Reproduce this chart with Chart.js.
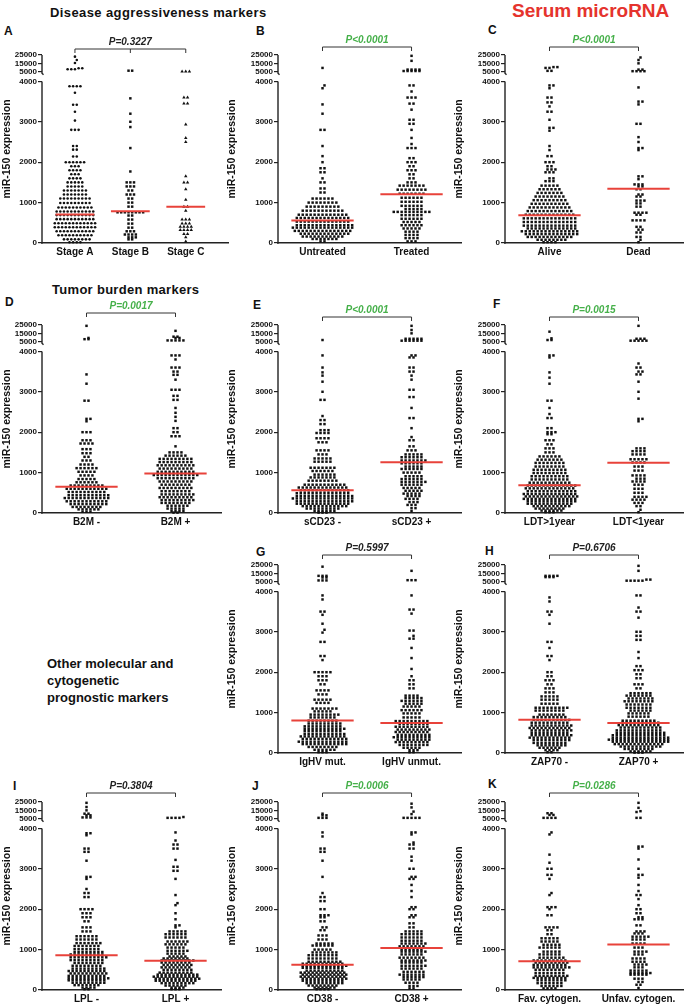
<!DOCTYPE html>
<html>
<head>
<meta charset="utf-8">
<script src="https://cdn.jsdelivr.net/npm/chart.js@4.4.1/dist/chart.umd.min.js"></script>
<style>
body{margin:0;background:#fff;width:685px;height:1006px;position:relative;overflow:hidden;font-family:"Liberation Sans",Arial,sans-serif;}
.t{position:absolute;font-weight:bold;color:#111;white-space:nowrap;}
.lt{font-size:12px;line-height:12px;}
canvas{position:absolute;}
</style>
</head>
<body>
<div class="t" style="left:50px;top:6px;font-size:13px;line-height:13px;letter-spacing:0.4px">Disease aggressiveness markers</div>
<div class="t" style="left:512px;top:1px;font-size:19px;line-height:19px;color:#e5332d">Serum microRNA</div>
<div class="t" style="left:52px;top:283px;font-size:13px;line-height:13px;letter-spacing:0.3px">Tumor burden markers</div>
<div class="t" style="left:47px;top:655px;font-size:13px;line-height:17px">Other molecular and<br>cytogenetic<br>prognostic markers</div>

<div class="t lt" style="left:4px;top:25px">A</div>
<div class="t lt" style="left:256px;top:25px">B</div>
<div class="t lt" style="left:488px;top:24px">C</div>
<div class="t lt" style="left:5px;top:296px">D</div>
<div class="t lt" style="left:253px;top:299px">E</div>
<div class="t lt" style="left:493px;top:298px">F</div>
<div class="t lt" style="left:256px;top:546px">G</div>
<div class="t lt" style="left:485px;top:545px">H</div>
<div class="t lt" style="left:13px;top:780px">I</div>
<div class="t lt" style="left:252px;top:780px">J</div>
<div class="t lt" style="left:488px;top:778px">K</div>

<script>
// ---- data: each row is [miR-150 value, number of patients in that dot row] ----
const stageA = [[23000,1],[19000,1],[15500,1],[9200,2],[8000,3],[3880,4],[3720,1],[3420,2],[3250,1],[3030,1],[2800,3],[2400,2],[2310,2],[2140,2],[2000,6],[1900,3],[1800,4],[1700,3],[1600,4],[1500,5],[1400,5],[1300,7],[1200,7],[1100,9],[990,9],[880,10],[780,11],[690,11],[590,11],[490,12],[390,12],[290,11],[190,10],[90,8],[20,4]];
const stageB = [[6200,2],[3580,1],[3200,1],[3000,1],[2870,1],[2350,1],[1770,1],[1500,3],[1400,3],[1300,2],[1200,3],[1100,2],[1000,2],[900,2],[760,8],[680,2],[580,2],[480,2],[380,2],[290,3],[210,4],[140,3],[90,2]];
const stageC = [[5300,3],[3600,2],[3450,2],[2930,1],[2600,1],[2500,1],[1650,1],[1500,2],[1330,1],[1070,1],[900,2],[800,1],[580,3],[480,3],[400,4],[320,4],[220,2],[140,1],[40,1]];
const untreated = [[9500,1],[3900,1],[3830,1],[3430,1],[3200,1],[2800,2],[2400,1],[2150,1],[2000,1],[1850,2],[1750,2],[1600,1],[1500,2],[1350,2],[1250,2],[1100,6],[1000,8],[900,9],[800,11],[700,13],[620,14],[530,14],[440,15],[380,16],[300,15],[230,13],[160,11],[100,7],[40,2]];
const treated = [[24000,1],[18000,1],[7500,4],[5800,5],[3900,2],[3750,1],[3600,3],[3450,2],[3300,1],[3050,2],[2950,2],[2800,1],[2600,1],[2450,1],[2350,3],[2100,2],[2000,3],[1900,2],[1800,3],[1700,2],[1600,2],[1500,3],[1420,7],[1320,8],[1220,7],[1120,6],[1020,6],[920,6],[840,5],[770,10],[690,6],[600,6],[520,5],[440,6],[360,5],[280,4],[200,4],[120,4],[40,3]];
const alive = [[10500,2],[9500,2],[6000,2],[3900,2],[3830,1],[3600,2],[3480,2],[3380,1],[3250,2],[3050,1],[2850,2],[2780,1],[2400,1],[2300,1],[2150,2],[2000,3],[1900,2],[1820,3],[1750,3],[1600,2],[1530,3],[1420,5],[1330,6],[1240,7],[1150,8],[1060,9],[970,10],[880,11],[790,12],[700,13],[610,14],[520,14],[430,14],[360,13],[290,15],[220,14],[150,12],[80,8],[20,4]];
const dead = [[22000,1],[19000,1],[15000,1],[7500,2],[5600,4],[3850,1],[3500,2],[3430,1],[2950,2],[2620,1],[2500,1],[2350,2],[2300,1],[1650,2],[1580,1],[1450,3],[1400,2],[1330,2],[1200,2],[1150,2],[1050,3],[980,2],[900,2],[750,4],[700,2],[560,4],[400,2],[330,2],[260,2],[150,2],[80,1],[20,1]];
const b2mNeg = [[24000,1],[9500,1],[8000,2],[3430,1],[3200,1],[2780,2],[2330,2],[2270,1],[2000,3],[1800,3],[1720,4],[1580,3],[1480,3],[1390,2],[1300,3],[1200,4],[1110,6],[1020,5],[930,4],[840,5],[760,6],[680,9],[600,11],[520,10],[440,11],[370,12],[290,11],[220,10],[150,8],[90,6],[30,3]];
const b2mPos = [[18000,1],[11000,2],[9500,2],[6500,5],[3900,3],[3800,1],[3600,3],[3500,2],[3420,2],[3300,1],[3050,3],[2900,2],[2800,2],[2600,1],[2480,1],[2380,1],[2280,1],[2100,2],[2000,2],[1900,3],[1650,1],[1500,4],[1420,6],[1340,9],[1260,9],[1180,10],[1100,9],[1020,10],[940,12],[860,10],[780,9],[700,8],[620,9],[540,8],[460,9],[390,9],[320,9],[250,8],[180,6],[110,5],[50,4],[10,2]];
const scd23Neg = [[7000,1],[3900,1],[3600,1],[3480,1],[3400,1],[3250,1],[3000,1],[2800,2],[2400,1],[2300,2],[2200,2],[2050,3],[1980,4],[1850,4],[1750,3],[1550,4],[1450,3],[1350,5],[1270,5],[1120,7],[1040,6],[950,6],[880,7],[800,8],[700,11],[630,13],[560,13],[490,14],[420,15],[360,16],[290,15],[230,14],[170,12],[110,9],[50,6],[10,3]];
const scd23Pos = [[24000,1],[19000,1],[15000,1],[8500,5],[6200,6],[3900,2],[3850,2],[3600,2],[3500,2],[3400,1],[3300,1],[3050,2],[2870,2],[2600,1],[2350,2],[2100,1],[1880,1],[1800,2],[1650,2],[1550,3],[1450,5],[1380,6],[1300,7],[1230,6],[1150,5],[1090,6],[1000,5],[910,5],[840,6],[770,7],[700,6],[620,5],[550,5],[480,5],[420,4],[350,4],[270,3],[200,3],[120,2],[50,1]];
const ldtLong = [[17000,1],[9000,1],[7000,2],[3900,2],[3850,1],[3480,1],[3350,1],[3200,1],[2780,2],[2600,1],[2450,1],[2350,2],[2100,2],[2000,3],[1950,2],[1800,3],[1700,2],[1600,3],[1500,3],[1400,6],[1320,7],[1240,8],[1150,8],[1070,9],[990,9],[910,10],[830,10],[750,11],[680,13],[610,13],[540,13],[470,14],[410,14],[350,14],[290,13],[230,12],[170,10],[110,8],[60,6],[20,3]];
const ldtShort = [[24000,1],[8500,3],[6200,5],[3700,1],[3600,2],[3500,2],[3430,2],[3250,1],[3000,1],[2830,1],[2330,2],[2270,1],[1600,3],[1530,4],[1450,4],[1330,5],[1250,4],[1150,3],[1050,3],[930,4],[850,3],[780,4],[700,3],[600,3],[500,3],[400,4],[330,4],[250,3],[170,2],[80,1],[20,1]];
const ighvMut = [[23000,1],[12000,3],[10000,2],[6500,3],[3900,1],[3800,1],[3500,2],[3420,1],[3200,1],[3050,1],[2980,1],[2750,2],[2400,2],[2300,1],[2000,5],[1900,3],[1800,3],[1700,2],[1550,4],[1450,3],[1320,5],[1240,4],[1100,7],[1030,5],[950,8],[880,7],[800,8],[730,9],[660,10],[600,11],[540,10],[470,11],[410,12],[350,12],[280,13],[220,12],[150,8],[80,6],[20,3]];
const ighvUnmut = [[18000,1],[6800,3],[3900,1],[3550,2],[3450,1],[3030,2],[2900,1],[2830,2],[2600,1],[2350,1],[2080,1],[1900,1],[1800,2],[1700,2],[1600,2],[1420,4],[1360,5],[1290,6],[1220,5],[1150,5],[1060,6],[980,5],[880,5],[790,9],[720,8],[650,9],[580,9],[520,9],[450,9],[390,10],[330,9],[270,9],[200,8],[130,5],[70,3],[20,2]];
const zap70Neg = [[12000,4],[10500,3],[3850,1],[3750,1],[3500,2],[3420,1],[3200,1],[2750,2],[2600,1],[2400,2],[2300,1],[2000,2],[1900,2],[1800,3],[1700,2],[1600,3],[1500,3],[1400,5],[1320,5],[1220,5],[1120,9],[1050,8],[950,7],[890,9],[820,10],[750,10],[680,11],[620,11],[560,11],[500,10],[440,11],[380,11],[320,10],[250,9],[190,8],[130,6],[70,4],[20,2]];
const zap70Pos = [[24000,1],[18000,1],[7500,2],[6200,5],[3900,2],[3600,1],[3500,2],[3350,1],[3000,2],[2900,2],[2800,2],[2500,1],[2350,1],[2150,2],[2050,3],[1950,2],[1850,2],[1700,3],[1600,2],[1480,6],[1420,7],[1350,7],[1280,8],[1200,7],[1120,7],[1050,6],[980,6],[900,6],[800,9],[750,10],[690,11],[630,11],[560,12],[500,13],[440,14],[380,15],[330,16],[280,15],[220,13],[160,11],[100,8],[40,6],[10,3]];
const lplNeg = [[24000,1],[19000,1],[15000,1],[11000,2],[9000,2],[6500,3],[3880,2],[3830,1],[3500,2],[3420,2],[3200,1],[2800,2],[2750,1],[2500,1],[2400,2],[2300,2],[2000,4],[1900,3],[1800,3],[1700,2],[1550,3],[1450,3],[1330,6],[1250,6],[1160,7],[1090,7],[1010,7],[940,8],[880,9],[810,10],[740,9],[670,8],[600,8],[530,9],[470,10],[410,10],[350,10],[290,11],[240,10],[180,9],[120,7],[60,4],[20,2]];
const lplPos = [[7000,1],[6000,4],[3900,1],[3700,1],[3600,2],[3500,2],[3220,1],[3050,2],[2950,2],[2750,1],[2350,1],[2150,1],[2100,1],[1900,1],[1750,1],[1600,2],[1550,1],[1450,5],[1380,6],[1300,6],[1200,6],[1130,6],[1050,5],[970,6],[900,5],[830,5],[780,7],[730,9],[680,8],[620,8],[560,8],[500,8],[430,9],[380,11],[330,12],[280,12],[230,11],[170,9],[110,6],[60,4],[20,3]];
const cd38Neg = [[11000,1],[9000,2],[6000,3],[3900,1],[3800,1],[3500,2],[3420,2],[3200,1],[2800,1],[2400,1],[2300,2],[2200,2],[2000,2],[1850,3],[1800,2],[1700,2],[1550,2],[1480,2],[1350,3],[1250,3],[1150,5],[1100,6],[1000,5],[930,7],[860,8],[780,8],[700,9],[650,11],[600,12],[550,11],[480,10],[430,12],[380,12],[330,12],[280,12],[230,11],[170,10],[110,8],[60,6],[20,4]];
const cd38Pos = [[23000,1],[18500,1],[13500,1],[10500,1],[6000,5],[3900,2],[3850,1],[3650,1],[3600,2],[3500,2],[3300,1],[3200,1],[3000,2],[2800,2],[2750,2],[2600,1],[2450,1],[2300,1],[2050,2],[2000,2],[1850,2],[1800,2],[1650,2],[1550,2],[1450,5],[1380,6],[1300,6],[1220,6],[1150,7],[1080,7],[1000,6],[950,7],[880,6],[800,7],[730,7],[680,6],[600,7],[530,6],[450,6],[380,7],[320,6],[260,5],[180,4],[100,3],[40,2]];
const favCyto = [[11500,2],[9500,2],[6000,4],[3900,1],[3850,1],[3350,1],[3150,1],[3000,2],[2850,2],[2750,1],[2400,1],[2350,1],[2050,3],[2000,1],[1850,2],[1550,4],[1480,2],[1380,2],[1280,5],[1200,5],[1120,5],[1050,6],[950,5],[880,6],[800,7],[730,9],[680,9],[620,9],[560,10],[500,8],[420,8],[350,9],[300,9],[240,8],[170,7],[100,6],[40,4]];
const unfavCyto = [[24000,1],[18000,1],[14000,1],[13000,1],[6000,2],[3550,2],[3500,1],[3230,1],[3000,1],[2850,2],[2780,1],[2600,1],[2450,1],[2350,2],[2250,1],[2100,1],[2000,2],[1900,2],[1800,2],[1750,3],[1600,2],[1450,3],[1400,3],[1320,5],[1250,4],[1150,4],[1050,3],[950,4],[880,3],[780,4],[700,4],[630,4],[560,3],[480,5],[420,6],[380,5],[280,3],[200,2],[130,2],[50,1]];

// medians (red bars)
const medA = [708, 783, 900];
const medB = [558, 1208];
const medC = [689, 1345];
const medD = [648, 975];
const medE = [566, 1254];
const medF = [689, 1246];
const medG = [802, 744];
const medH = [826, 744];
const medI = [858, 725];
const medJ = [625, 1042];
const medK = [711, 1124];

const catsA = ['Stage A', 'Stage B', 'Stage C'];
const catsB = ['Untreated', 'Treated'];
const catsC = ['Alive', 'Dead'];
const catsD = ['B2M -', 'B2M +'];
const catsE = ['sCD23 -', 'sCD23 +'];
const catsF = ['LDT>1year', 'LDT<1year'];
const catsG = ['IgHV mut.', 'IgHV unmut.'];
const catsH = ['ZAP70 -', 'ZAP70 +'];
const catsI = ['LPL -', 'LPL +'];
const catsJ = ['CD38 -', 'CD38 +'];
const catsK = ['Fav. cytogen.', 'Unfav. cytogen.'];

const pValues = ['P=0.3227', 'P<0.0001', 'P<0.0001', 'P=0.0017', 'P<0.0001', 'P=0.0015', 'P=0.5997', 'P=0.6706', 'P=0.3804', 'P=0.0006', 'P=0.0286'];
const significant = [false, true, true, true, true, true, false, false, false, true, true];

const yTickVals = [0, 1000, 2000, 3000, 4000, 5000, 15000, 25000];
const yTickLabels = ['0', '1000', '2000', '3000', '4000', '5000', '15000', '25000'];

// ---- broken y axis ----
const GAP = 240, TOPSEG = 413;
function d(v) {
	return v <= 4000 ? v : 4000 + GAP + (v - 5000) * TOPSEG / 20000;
}
const YMAX = d(25000);

const FONT = '"Liberation Sans", Arial, sans-serif';
Chart.defaults.font.family = FONT;
Chart.defaults.color = '#111';
const RED = '#e8423a';
const GREEN = '#46b04a';

const colAxisX = [42, 278, 505];
const colYW = [41, 52, 52];
const colAreaW = [181, 185, 180];
const rowZero = [243, 513, 753, 990];
const AREA_H = 188, PADTOP = 32, XH = 22;

const panels = [
	{col: 0, row: 0, cats: catsA, groups: [stageA, stageB, stageC], med: medA, shapes: ['circle', 'rect', 'triangle'], areaW: 188, ppu: 56, off: 33.3, bk: 6},
	{col: 1, row: 0, cats: catsB, groups: [untreated, treated], med: medB, bk: 8},
	{col: 2, row: 0, cats: catsC, groups: [alive, dead], med: medC, bk: 8},
	{col: 0, row: 1, cats: catsD, groups: [b2mNeg, b2mPos], med: medD, bk: 12},
	{col: 1, row: 1, cats: catsE, groups: [scd23Neg, scd23Pos], med: medE, bk: 8},
	{col: 2, row: 1, cats: catsF, groups: [ldtLong, ldtShort], med: medF, bk: 8},
	{col: 1, row: 2, cats: catsG, groups: [ighvMut, ighvUnmut], med: medG, bk: 10},
	{col: 2, row: 2, cats: catsH, groups: [zap70Neg, zap70Pos], med: medH, bk: 10},
	{col: 0, row: 3, cats: catsI, groups: [lplNeg, lplPos], med: medI, bk: 9},
	{col: 1, row: 3, cats: catsJ, groups: [cd38Neg, cd38Pos], med: medJ, bk: 9},
	{col: 2, row: 3, cats: catsK, groups: [favCyto, unfavCyto], med: medK, bk: 9},
];

// column-scatter layout: dots of one row are spread sideways
function swarm(rows, g, ppu, sp) {
	const vals = [];
	rows.forEach(([v, n]) => { for (let i = 0; i < n; i++) vals.push(v); });
	vals.sort((a, b) => a - b);
	const clusters = [];
	vals.forEach(v => {
		const c = clusters[clusters.length - 1];
		if (c && d(v) - c.y0 < 30) c.vals.push(v);
		else clusters.push({y0: d(v), vals: [v]});
	});
	const out = [];
	let prev = -1e9, shift = 0;
	clusters.forEach(c => {
		shift = (c.y0 - prev < 75 && shift === 0) ? sp / 2 : 0;
		prev = c.y0;
		const n = c.vals.length;
		c.vals.forEach((v, i) => out.push({x: g + ((i - (n - 1) / 2) * sp + shift) / ppu, y: d(v)}));
	});
	return out;
}

panels.forEach((p, k) => {
	const yw = colYW[p.col], aw = p.areaW || colAreaW[p.col];
	const ppu = p.ppu || 90, off = p.off || 45;
	const xmin = 1 - off / ppu, xmax = xmin + aw / ppu;
	const W = yw + aw + 2, H = PADTOP + AREA_H + XH;

	const cv = document.createElement('canvas');
	cv.width = W; cv.height = H;
	cv.style.width = W + 'px'; cv.style.height = H + 'px';
	cv.style.left = (colAxisX[p.col] - yw) + 'px';
	cv.style.top = (rowZero[p.row] - AREA_H - PADTOP) + 'px';
	document.body.appendChild(cv);

	const datasets = [];
	p.med.forEach((m, i) => {
		datasets.push({type: 'line', data: [{x: i + 1 - 0.35, y: m}, {x: i + 1 + 0.35, y: m}],
			borderColor: RED, borderWidth: 2, pointRadius: 0, order: 0, clip: false});
	});
	p.groups.forEach((rows, i) => {
		const shape = p.shapes ? p.shapes[i] : 'rect';
		datasets.push({type: 'scatter', data: swarm(rows, i + 1, ppu, p.ppu ? 3.7 : 4.0),
			pointStyle: shape, pointRadius: shape === 'circle' ? 1.3 : (shape === 'triangle' ? 2.0 : 1.75),
			backgroundColor: '#111', borderWidth: 0, order: 1, clip: false});
	});

	new Chart(cv, {
		type: 'scatter',
		data: {datasets},
		options: {
			responsive: false, animation: false, devicePixelRatio: 1, events: [],
			layout: {padding: {top: PADTOP, right: 2, left: 0, bottom: 0}},
			plugins: {legend: {display: false}, tooltip: {enabled: false}},
			scales: {
				x: {
					type: 'linear', min: xmin, max: xmax,
					afterBuildTicks: s => { s.ticks = p.cats.map((c, i) => ({value: i + 1})); },
					afterFit: s => { s.height = XH; },
					ticks: {callback: v => p.cats[Math.round(v) - 1], font: {size: 10, weight: 'bold'}, padding: 3, autoSkip: false, maxRotation: 0},
					grid: {display: false, drawTicks: false},
					border: {display: true, color: '#222', width: 1.4},
				},
				y: {
					type: 'linear', min: 0, max: YMAX,
					afterBuildTicks: s => { s.ticks = yTickVals.map(v => ({value: d(v)})); },
					afterFit: s => { s.width = yw; },
					ticks: {callback: (v, i) => yTickLabels[i], font: {size: 8, weight: 'bold'}, padding: 1, autoSkip: false},
					grid: {drawOnChartArea: false, drawTicks: true, tickLength: 4, color: '#222', lineWidth: 1.2},
					border: {display: false},
					title: {display: true, text: 'miR-150 expression', font: {size: 10.5, weight: 'bold'}, padding: 0},
				},
			},
		},
		plugins: [{
			id: 'decor',
			afterDraw(chart) {
				const {ctx, chartArea: a, scales: {x, y}} = chart;
				ctx.save();
				ctx.strokeStyle = '#222';
				ctx.lineWidth = 1.4;
				const lx = a.left;
				ctx.beginPath();
				ctx.moveTo(lx, y.getPixelForValue(0) + 0.7);
				ctx.lineTo(lx, y.getPixelForValue(4000));
				ctx.moveTo(lx, y.getPixelForValue(d(25000)));
				ctx.lineTo(lx, y.getPixelForValue(d(5000)) + 1.5);
				ctx.lineTo(lx + 1.5, y.getPixelForValue(d(5000)) + 3);
				ctx.stroke();

				const by = a.top - p.bk;
				const x1 = x.getPixelForValue(1), x2 = x.getPixelForValue(p.cats.length);
				ctx.lineWidth = 1;
				ctx.strokeStyle = '#333';
				ctx.beginPath();
				ctx.moveTo(x1, by + 4); ctx.lineTo(x1, by); ctx.lineTo(x2, by); ctx.lineTo(x2, by + 4);
				if (p.cats.length === 3) {
					const xm = x.getPixelForValue(2);
					ctx.moveTo(xm, by); ctx.lineTo(xm, by + 4);
				}
				ctx.stroke();
				ctx.font = 'italic bold 10px ' + FONT;
				ctx.fillStyle = significant[k] ? GREEN : '#222';
				ctx.textAlign = 'center';
				ctx.textBaseline = 'middle';
				ctx.fillText(pValues[k], (x1 + x2) / 2, by - 7);
				ctx.restore();
			},
		}],
	});
});
</script>
</body>
</html>
